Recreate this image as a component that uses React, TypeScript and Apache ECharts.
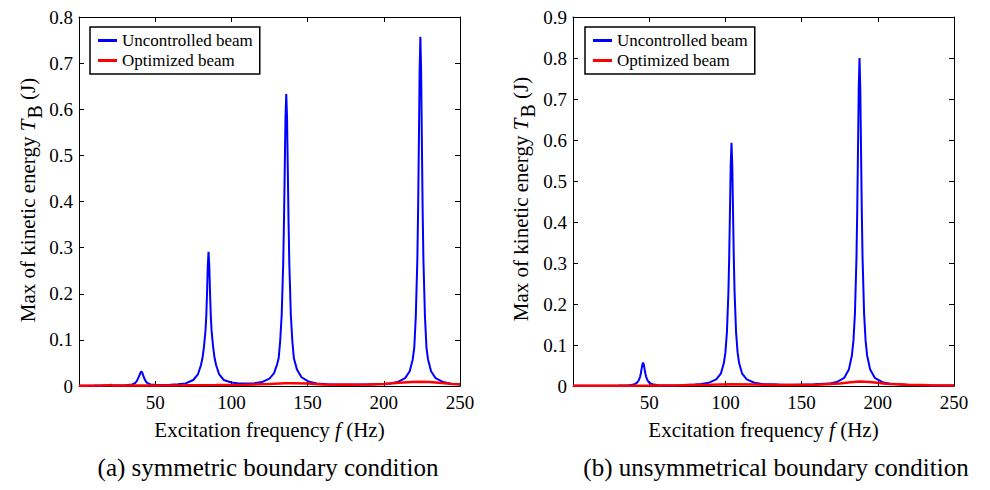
import React, { useEffect, useRef } from "react";
import * as echarts from "echarts";

const FONT = '"Liberation Serif", "Times New Roman", serif';

const seriesNames = ["Uncontrolled beam", "Optimized beam"];
const xTicks = { min: 0, max: 250, interval: 50 };
const yMaxA = 0.8;
const yMaxB = 0.9;
const captions = ["(a) symmetric boundary condition", "(b) unsymmetrical boundary condition"];

// (a) symmetric boundary condition
const freqA_unc = [0, 10, 20, 30, 35, 37, 38, 39, 40, 40.5, 41, 41.5, 42, 43, 44, 45, 47, 50, 55, 60, 65, 70, 75, 78, 80, 81, 82, 83, 83.5, 84, 84.5, 85, 85.5, 86, 86.5, 87, 88, 89, 90, 92, 95, 100, 105, 110, 115, 120, 125, 128, 130, 131, 132, 133, 134, 134.5, 135, 135.5, 136, 136.5, 137, 137.5, 138, 139, 140, 141, 143, 146, 151, 156, 165, 175, 185, 195, 200, 204, 209, 214, 217, 219, 220, 221, 222, 222.5, 223, 223.5, 224, 224.5, 225, 225.5, 226, 227, 228, 229, 231, 234, 239, 244, 250];
const valA_unc = [0.0008, 0.0009, 0.0011, 0.0016, 0.0035, 0.007, 0.011, 0.018, 0.026, 0.03, 0.031, 0.029, 0.024, 0.015, 0.009, 0.006, 0.0035, 0.0025, 0.0022, 0.0027, 0.0036, 0.0055, 0.013, 0.025, 0.045, 0.06, 0.085, 0.12, 0.15, 0.2, 0.26, 0.291, 0.26, 0.2, 0.15, 0.12, 0.085, 0.06, 0.045, 0.025, 0.013, 0.0075, 0.0055, 0.0055, 0.006, 0.0085, 0.016, 0.028, 0.047, 0.06, 0.097, 0.154, 0.266, 0.356, 0.47, 0.583, 0.633, 0.583, 0.47, 0.356, 0.266, 0.154, 0.097, 0.06, 0.036, 0.019, 0.009, 0.0055, 0.0035, 0.003, 0.003, 0.004, 0.0045, 0.0055, 0.0085, 0.017, 0.032, 0.058, 0.083, 0.151, 0.273, 0.379, 0.524, 0.681, 0.757, 0.681, 0.524, 0.379, 0.273, 0.151, 0.083, 0.058, 0.032, 0.017, 0.0085, 0.005, 0.0035];
const freqA_opt = [0, 15, 20, 21, 22, 30, 40, 50, 70, 90, 110, 125, 135, 140, 150, 160, 175, 190, 200, 210, 218, 224, 230, 238, 245, 250];
const valA_opt = [0.0008, 0.001, 0.0014, 0.0025, 0.0012, 0.0009, 0.0012, 0.0013, 0.0015, 0.002, 0.0028, 0.0045, 0.0058, 0.006, 0.0052, 0.0035, 0.0025, 0.003, 0.0042, 0.0068, 0.0085, 0.009, 0.0085, 0.0065, 0.0045, 0.0038];

// (b) unsymmetrical boundary condition
const freqB_unc = [0, 20, 30, 36, 40, 42, 43, 44, 44.5, 45, 45.5, 46, 46.5, 47, 47.5, 48, 49, 50, 52, 56, 60, 70, 80, 84, 89, 94, 97, 99, 100, 101, 102, 102.5, 103, 103.5, 104, 104.5, 105, 105.5, 106, 107, 108, 109, 111, 114, 119, 124, 135, 145, 158, 168, 173, 178, 181, 183, 184, 185, 186, 186.5, 187, 187.5, 188, 188.5, 189, 189.5, 190, 191, 192, 193, 195, 198, 203, 208, 218, 233, 250];
const valB_unc = [0.0007, 0.0008, 0.001, 0.0015, 0.0036, 0.0081, 0.0128, 0.0224, 0.0305, 0.0412, 0.052, 0.057, 0.052, 0.041, 0.0305, 0.0224, 0.0128, 0.0081, 0.004, 0.0018, 0.0015, 0.0018, 0.0035, 0.005, 0.0077, 0.016, 0.03, 0.056, 0.082, 0.131, 0.231, 0.316, 0.427, 0.54, 0.593, 0.54, 0.427, 0.316, 0.231, 0.131, 0.082, 0.056, 0.03, 0.016, 0.008, 0.005, 0.0035, 0.003, 0.004, 0.0058, 0.0095, 0.02, 0.04, 0.0745, 0.11, 0.177, 0.312, 0.426, 0.575, 0.728, 0.8, 0.728, 0.575, 0.426, 0.312, 0.177, 0.11, 0.0745, 0.04, 0.02, 0.0095, 0.0055, 0.003, 0.0015, 0.001];
const freqB_opt = [0, 30, 50, 70, 90, 104, 120, 140, 160, 175, 182, 188, 195, 205, 220, 235, 250];
const valB_opt = [0.0008, 0.0009, 0.0012, 0.0018, 0.003, 0.004, 0.0035, 0.0022, 0.003, 0.006, 0.009, 0.011, 0.0095, 0.0055, 0.003, 0.0018, 0.0012];

const zip = (f: number[], v: number[]) => f.map((x, i) => [x, v[i]]);

const axisLine = { show: true, onZero: false, lineStyle: { color: "#000", width: 1 } };
const axisTick = { show: true, inside: true, length: 5, lineStyle: { color: "#000", width: 1 } };

function xAxes(gridIndex: number) {
  return [
    {
      type: "value", gridIndex, position: "bottom", ...xTicks,
      axisLine, axisTick, splitLine: { show: false },
      axisLabel: { color: "#000", fontFamily: FONT, fontSize: 19, margin: 7, formatter: (v: number) => (v === 0 ? "" : String(v)) },
      name: "Excitation frequency {i|f} (Hz)", nameLocation: "middle", nameGap: 33,
      nameTextStyle: { color: "#000", fontFamily: FONT, fontSize: 21, rich: { i: { fontStyle: "italic", fontFamily: FONT, fontSize: 21, color: "#000" } } },
    },
    {
      type: "value", gridIndex, position: "top", ...xTicks,
      axisLine, axisTick, splitLine: { show: false }, axisLabel: { show: false },
    },
  ];
}

function yAxes(gridIndex: number, max: number) {
  return [
    {
      type: "value", gridIndex, position: "left", min: 0, max, interval: 0.1,
      axisLine, axisTick, splitLine: { show: false },
      axisLabel: { color: "#000", fontFamily: FONT, fontSize: 19, margin: 6, formatter: (v: number) => (v === 0 ? "0" : v.toFixed(1)) },
    },
    {
      type: "value", gridIndex, position: "right", min: 0, max, interval: 0.1,
      axisLine, axisTick, splitLine: { show: false }, axisLabel: { show: false },
    },
  ];
}

function legend(left: number) {
  return {
    left, top: 27, orient: "vertical", data: seriesNames, icon: "rect",
    itemWidth: 19, itemHeight: 3, itemGap: 3, padding: [5, 7, 5, 8],
    borderColor: "#000", borderWidth: 1.5, backgroundColor: "#fff",
    textStyle: { fontFamily: FONT, fontSize: 17, color: "#000" },
  };
}

function yName(x: number, y: number) {
  return {
    type: "text", x, y, rotation: Math.PI / 2,
    style: {
      text: "Max of kinetic energy {i|T}{s|B} (J)",
      fill: "#000", fontFamily: FONT, fontSize: 21, align: "center", verticalAlign: "middle",
      rich: {
        i: { fontStyle: "italic", fontFamily: FONT, fontSize: 21, fill: "#000" },
        s: { fontFamily: FONT, fontSize: 20, fill: "#000", padding: [14, 0, 0, 1] },
      },
    },
  };
}

function caption(x: number, text: string) {
  return {
    type: "text", x, y: 467,
    style: { text, fill: "#000", fontFamily: FONT, fontSize: 25, align: "center", verticalAlign: "middle" },
  };
}

const line = (name: string, color: string, width: number, xi: number, data: number[][]) => ({
  name, type: "line", xAxisIndex: xi, yAxisIndex: xi, data, showSymbol: false, symbol: "none",
  lineStyle: { color, width }, itemStyle: { color }, silent: true,
});

export default function App() {
  const ref = useRef<HTMLDivElement>(null);
  useEffect(() => {
    document.body.style.margin = "0";
    const chart = echarts.init(ref.current!, null, { renderer: "svg" });
    chart.setOption({
      animation: false,
      backgroundColor: "#fff",
      grid: [
        { left: 79, top: 17, width: 381, height: 369 },
        { left: 573, top: 17, width: 381, height: 369 },
      ],
      xAxis: [...xAxes(0), ...xAxes(1)],
      yAxis: [...yAxes(0, yMaxA), ...yAxes(1, yMaxB)],
      legend: [legend(90), legend(585)],
      series: [
        line(seriesNames[0], "#0000ff", 2, 0, zip(freqA_unc, valA_unc)),
        line(seriesNames[1], "#ff0000", 2.5, 0, zip(freqA_opt, valA_opt)),
        line(seriesNames[0], "#0000ff", 2, 2, zip(freqB_unc, valB_unc)),
        line(seriesNames[1], "#ff0000", 2.5, 2, zip(freqB_opt, valB_opt)),
      ],
      graphic: [yName(28, 200), yName(521, 199), caption(268, captions[0]), caption(776, captions[1])],
    });
    return () => chart.dispose();
  }, []);
  return <div ref={ref} style={{ width: 990, height: 490 }} />;
}
